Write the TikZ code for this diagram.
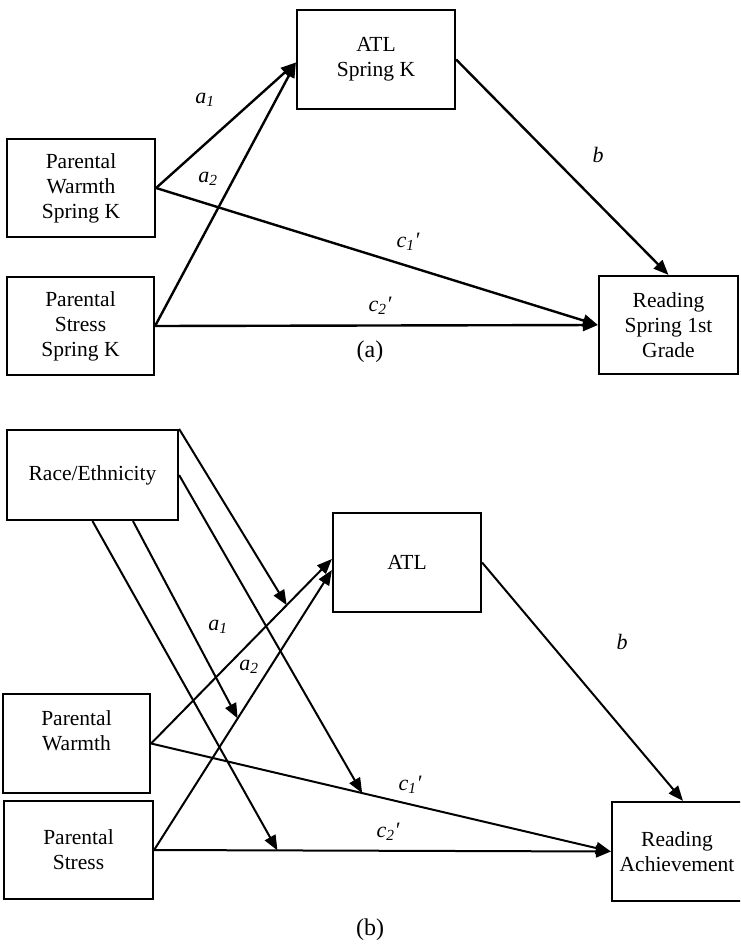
\documentclass[tikz,border=0pt]{standalone}
\usepackage{fontspec}
\setmainfont{Liberation Serif}
\usetikzlibrary{arrows.meta,calc}
\begin{document}
\begin{tikzpicture}[x=1pt,y=-1pt,
  box/.style={draw,line width=2.2pt,rectangle,inner sep=0pt,align=center,font=\fontsize{21.5}{25}\selectfont},
  conna/.style={line width=2.4pt,-{Triangle[length=15pt,width=12pt]}},
  connb/.style={line width=2pt,-{Triangle[length=15pt,width=12pt]}},
  lab/.style={font=\fontsize{22}{26}\selectfont\itshape},
  captext/.style={font=\fontsize{24}{28}\selectfont}]
\useasboundingbox (0,0) rectangle (740,948);
\clip (0,0) rectangle (740,948);

% ---------------- panel (a)
\node[box,minimum width=148pt,minimum height=98pt] (warmA) at (81,188) {Parental\\Warmth\\Spring K};
\node[box,minimum width=147pt,minimum height=98pt] (stressA) at (80.5,326) {Parental\\Stress\\Spring K};
\node[box,minimum width=158pt,minimum height=99pt] (atlA) at (376,59.5) {ATL\\Spring K};
\node[box,minimum width=139pt,minimum height=98pt] (readA) at (668.5,325) {Reading\\Spring 1st\\Grade};
\coordinate (atlAin) at ($(atlA.west)+(0,3)$);

\draw[conna] (warmA.east) -- (atlAin);
\draw[conna] (stressA.east) -- (atlAin);
\draw[conna] (atlA.east) -- (readA.north);
\draw[conna] (warmA.east) -- (readA.west);
\draw[conna] (stressA.east) -- (readA.west);

\node[lab] (la1) at (205,100) {a\textsubscript{1}};
\node[lab] (la2) at (208,179) {a\textsubscript{2}};
\node[lab] (lb) at (598,155) {b};
\node[lab] (lc1) at (408,242) {c\textsubscript{1}′};
\node[lab] (lc2) at (380,306) {c\textsubscript{2}′};
\node[captext] (capa) at (370,352) {(a)};

% ---------------- panel (b)
\node[box,minimum width=171pt,minimum height=90pt] (race) at (92.5,475) {Race/Ethnicity};
\node[box,minimum width=148pt,minimum height=99pt] (atlB) at (407,562.5) {ATL};
\node[box,minimum width=147pt,minimum height=99pt] (warmB) at (76.5,743.5) {Parental\\Warmth\\\mbox{}};
\node[box,minimum width=149pt,minimum height=98pt] (stressB) at (78.5,850) {Parental\\Stress};
\node[box,minimum width=130pt,minimum height=99pt] (readB) at (677,851.5) {Reading\\Achievement};

\coordinate (atlBa1) at ($(atlB.west)+(0,-3.5)$);
\coordinate (atlBa2) at ($(atlB.west)+(0,7.5)$);
\coordinate (readBtop) at ($(readB.north)+(6,0)$);

\draw[connb] (warmB.east) -- (atlBa1);
\draw[connb] (stressB.east) -- (atlBa2);
\draw[connb] (atlB.east) -- (readBtop);
\draw[connb] (warmB.east) -- (readB.west);
\draw[connb] (stressB.east) -- (readB.west);

\coordinate (m1) at ($(warmB.east)!0.75!(atlBa1)$);
\coordinate (m2) at ($(stressB.east)!0.47!(atlBa2)$);
\coordinate (m3) at ($(warmB.east)!0.459!(readB.west)$);
\coordinate (m4) at ($(stressB.east)!0.27!(readB.west)$);
\coordinate (r2) at ($(race.south)+(40.5,0)$);

\draw[connb] (race.north east) -- (m1);
\draw[connb] (race.east) -- (m3);
\draw[connb] (r2) -- (m2);
\draw[connb] (race.south) -- (m4);

\node[lab] (lba1) at (218,627) {a\textsubscript{1}};
\node[lab] (lba2) at (249,667) {a\textsubscript{2}};
\node[lab] (lbb) at (622,642) {b};
\node[lab] (lbc1) at (410,785) {c\textsubscript{1}′};
\node[lab] (lbc2) at (388,832) {c\textsubscript{2}′};
\node[captext] (capb) at (370,930) {(b)};
\end{tikzpicture}
\end{document}
